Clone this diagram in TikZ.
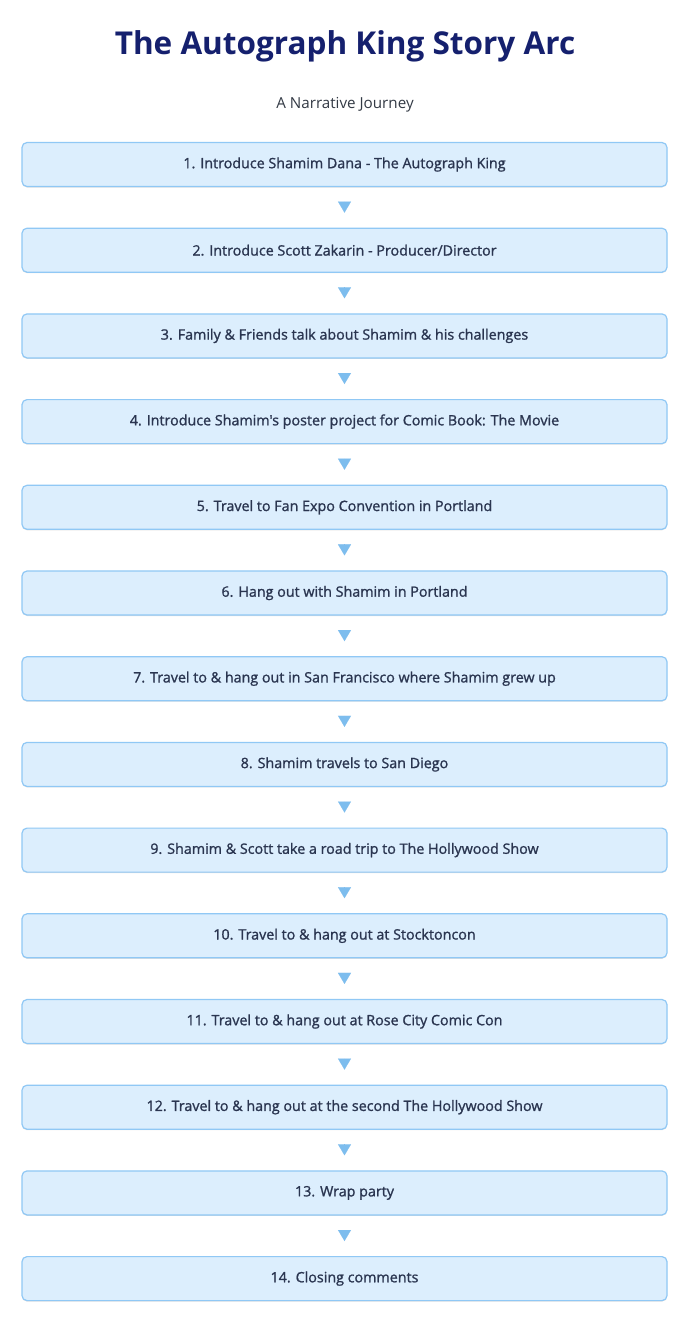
\documentclass[tikz,border=0pt]{standalone}
\usepackage{fontspec}
\setmainfont{Open Sans}
\newfontfamily\boxfont{Open Sans}[FakeBold=1.2]
\usetikzlibrary{arrows.meta,shadows}
\definecolor{titlecol}{HTML}{15206E}
\definecolor{subcol}{HTML}{333A45}
\definecolor{boxfill}{HTML}{DCEEFD}
\definecolor{boxline}{HTML}{90C8F5}
\definecolor{boxtext}{HTML}{2A3550}
\definecolor{arrowcol}{HTML}{7DBDEE}
\tikzset{
  stepbox/.style={draw=boxline, line width=1.2pt, fill=boxfill, rounded corners=5pt,
    minimum width=645pt, minimum height=44pt, inner sep=0pt,
    text=boxtext, font=\boxfont\fontsize{14.3pt}{16pt}\selectfont,
    drop shadow={shadow xshift=0pt, shadow yshift=-1pt, opacity=0.12, fill=black}},
  flowarrow/.style={draw=arrowcol, fill=arrowcol, line width=0.1pt,
    -{Triangle[width=13pt,length=11pt]}, shorten <=15pt, shorten >=15pt},
}
\begin{document}
\begin{tikzpicture}[x=1pt,y=-1pt]
\useasboundingbox[fill=white] (0,0) rectangle (691,1323);
\node[text=titlecol, font=\fontsize{31.5pt}{34pt}\selectfont\bfseries] (title) at (345,46) {The Autograph King Story Arc};
\node[text=subcol, font=\fontsize{15.2pt}{17pt}\selectfont] (sub) at (345,105) {A Narrative Journey};
\foreach \i/\t in {
1/{1. Introduce Shamim Dana - The Autograph King},
2/{2. Introduce Scott Zakarin - Producer/Director},
3/{3. Family \& Friends talk about Shamim \& his challenges},
4/{4. Introduce Shamim's poster project for Comic Book: The Movie},
5/{5. Travel to Fan Expo Convention in Portland},
6/{6. Hang out with Shamim in Portland},
7/{7. Travel to \& hang out in San Francisco where Shamim grew up},
8/{8. Shamim travels to San Diego},
9/{9. Shamim \& Scott take a road trip to The Hollywood Show},
10/{10. Travel to \& hang out at Stocktoncon},
11/{11. Travel to \& hang out at Rose City Comic Con},
12/{12. Travel to \& hang out at the second The Hollywood Show},
13/{13. Wrap party},
14/{14. Closing comments}}{
  \node[stepbox] (b\i) at (344.5,{164.5+85.7*(\i-1)}) {\t};
}
\foreach \i [evaluate=\i as \j using int(\i+1)] in {1,...,13}{
  \draw[flowarrow] (b\i.south) -- (b\j.north);
}
\end{tikzpicture}
\end{document}
